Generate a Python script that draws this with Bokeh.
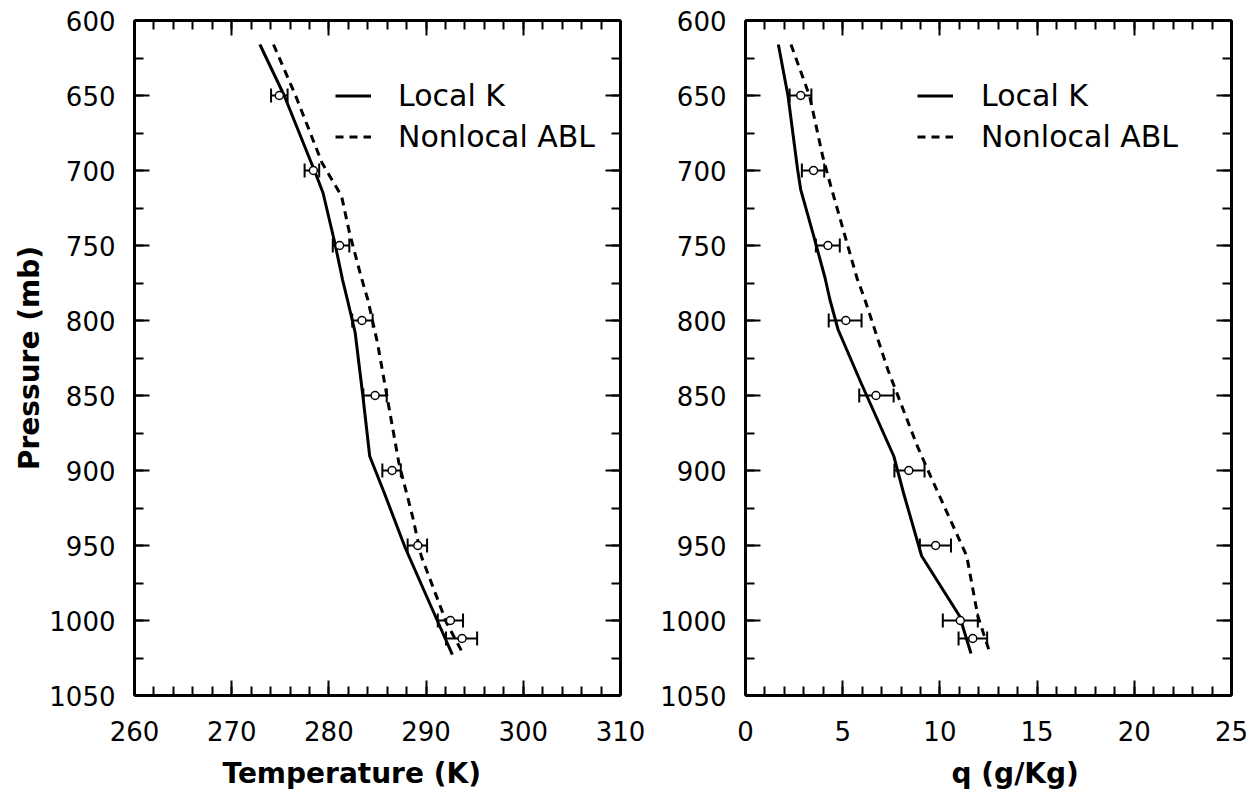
from bokeh.plotting import figure
from bokeh.layouts import row
from bokeh.models import (Range1d, LinearAxis, SingleIntervalTicker, ColumnDataSource,
                          Whisker, TeeHead, Legend, LegendItem, Title, CustomLabelingPolicy)
from bokeh.embed import file_html
from bokeh.resources import INLINE

FONT = "DejaVu Sans"

# ---------------- data: temperature panel ----------------
T_localK_p = [616, 650, 701.5, 715, 748, 772.7, 786, 808, 850.5, 890.5, 915, 951.5, 1001.5, 1022.7]
T_localK = [272.9, 275.4, 278.6, 279.4, 280.6, 281.4, 281.9, 282.7, 283.5, 284.2, 285.7, 287.85, 291.25, 292.7]

T_nonlocal_p = [616, 650.5, 695, 717, 741, 770.5, 786, 815, 855, 895, 930.5, 957, 1001.5, 1022.7]
T_nonlocal = [274.3, 276.6, 279.3, 281.3, 282.1, 283.3, 284.0, 285.0, 286.1, 287.2, 288.6, 289.5, 292.1, 293.85]

obs_p = [650, 700, 750, 800, 850, 900, 950, 1000, 1012]
obs_T = [274.9, 278.4, 281.1, 283.4, 284.75, 286.5, 289.15, 292.5, 293.7]
obs_T_lo = [274.05, 277.5, 280.4, 282.4, 283.55, 285.5, 288.1, 291.2, 292.05]
obs_T_hi = [275.75, 279.0, 282.1, 284.5, 285.95, 287.4, 290.1, 293.8, 295.25]

# ---------------- data: humidity panel ----------------
q_localK_p = [616, 650.5, 699.3, 712.7, 743.8, 771.5, 786, 806, 841.5, 890.5, 915, 957, 997, 1022]
q_localK = [1.69, 2.19, 2.68, 2.84, 3.51, 4.09, 4.34, 4.76, 5.94, 7.63, 8.13, 9.06, 11.01, 11.6]

q_nonlocal_p = [616, 650.5, 690.5, 710.5, 771.5, 786, 832.7, 883.8, 903.8, 957, 997, 1022]
q_nonlocal = [2.34, 3.30, 3.97, 4.39, 5.73, 6.14, 7.32, 8.84, 9.52, 11.38, 11.95, 12.58]

obs_q = [2.84, 3.5, 4.24, 5.16, 6.71, 8.4, 9.78, 11.05, 11.69]
obs_q_lo = [2.27, 2.9, 3.62, 4.28, 5.85, 7.66, 8.97, 10.15, 10.96]
obs_q_hi = [3.39, 4.05, 4.85, 5.97, 7.62, 9.21, 10.57, 11.95, 12.43]

T_range = (260, 310)
q_range = (0, 25)
p_range = (1050, 600)

legend_labels = ["Local K", "Nonlocal ABL"]

HIDE_ALL = """
const idx = Array.from(indices);
for (const i of idx) { indices.unset(i); }
return indices;
"""


def style_axis(ax, show_labels):
    ax.axis_line_width = 3
    ax.axis_line_color = "black"
    ax.major_tick_in = 15
    ax.major_tick_out = 0
    ax.minor_tick_in = 9
    ax.minor_tick_out = 0
    ax.major_tick_line_width = 2
    ax.minor_tick_line_width = 2
    ax.major_tick_line_color = "black"
    ax.minor_tick_line_color = "black"
    if show_labels:
        ax.major_label_text_font = FONT
        ax.major_label_text_font_size = "26px"
        ax.major_label_text_color = "black"
    else:
        ax.major_label_text_font_size = "1px"
        ax.major_label_standoff = 0
        ax.major_label_policy = CustomLabelingPolicy(code=HIDE_ALL)


def make_panel(xr, xint, xlines, xnl, xobs, xlo, xhi, lines_p, nl_p,
               border_left, border_right, ylabel, xlabel, xlabel_offset,
               legend_x, legend_standoff):
    p = figure(frame_width=486, frame_height=675,
               x_range=Range1d(*xr), y_range=Range1d(*p_range),
               output_backend="svg", toolbar_location=None,
               min_border_left=border_left, min_border_right=border_right,
               min_border_top=20, min_border_bottom=40)
    p.xgrid.visible = False
    p.ygrid.visible = False
    p.outline_line_color = None
    p.background_fill_color = "white"
    p.border_fill_color = "white"

    xt = SingleIntervalTicker(interval=xint, num_minor_ticks=5)
    yt = SingleIntervalTicker(interval=50, num_minor_ticks=2)
    xax = p.xaxis[0]
    yax = p.yaxis[0]
    xax.ticker = xt
    yax.ticker = yt
    style_axis(xax, True)
    style_axis(yax, True)
    xax.major_label_standoff = 25
    yax.major_label_standoff = 19

    top = LinearAxis(ticker=xt)
    style_axis(top, False)
    p.add_layout(top, "above")
    right = LinearAxis(ticker=yt)
    style_axis(right, False)
    p.add_layout(right, "right")

    if ylabel:
        yax.axis_label = ylabel
        yax.axis_label_text_font = FONT
        yax.axis_label_text_font_size = "28px"
        yax.axis_label_text_font_style = "bold"
        yax.axis_label_text_color = "black"
        yax.axis_label_standoff = 0

    r1 = p.line(xlines, lines_p, line_color="black", line_width=3)
    r2 = p.line(xnl, nl_p, line_color="black", line_width=3, line_dash="8 6")

    src = ColumnDataSource(dict(p=obs_p, x=xobs, lo=xlo, hi=xhi))
    w = Whisker(source=src, base="p", lower="lo", upper="hi", dimension="width",
                line_width=2, line_color="black",
                upper_head=TeeHead(size=14, line_width=2, line_color="black"),
                lower_head=TeeHead(size=14, line_width=2, line_color="black"))
    p.add_layout(w)
    p.scatter("x", "p", source=src, marker="circle", size=8,
              fill_color="white", line_color="black", line_width=1.5)

    leg = Legend(items=[LegendItem(label=legend_labels[0], renderers=[r1]),
                        LegendItem(label=legend_labels[1], renderers=[r2])],
                 location=(legend_x, 541))
    leg.border_line_color = None
    leg.background_fill_alpha = 0
    leg.padding = 0
    leg.margin = 0
    leg.spacing = 6
    leg.glyph_width = 36
    leg.glyph_height = 35
    leg.label_height = 35
    leg.label_standoff = legend_standoff
    leg.label_text_font = FONT
    leg.label_text_font_size = "30px"
    leg.label_text_color = "black"
    p.add_layout(leg)

    t = Title(text=xlabel, align="left", offset=xlabel_offset,
              text_font=FONT, text_font_size="28px", text_font_style="bold",
              text_color="black", standoff=23)
    p.add_layout(t, "below")
    return p


p1 = make_panel(T_range, 10, T_localK, T_nonlocal, obs_T, obs_T_lo, obs_T_hi,
                T_localK_p, T_nonlocal_p, 134, 28, "Pressure (mb)", "Temperature (K)",
                88, 201, 27)
p2 = make_panel(q_range, 5, q_localK, q_nonlocal, obs_q, obs_q_lo, obs_q_hi,
                q_localK_p, q_nonlocal_p, 97, 20, None, "q (g/Kg)",
                206, 172, 28)

layout = row(p1, p2)
open("out.html", "w").write(file_html(layout, INLINE))
